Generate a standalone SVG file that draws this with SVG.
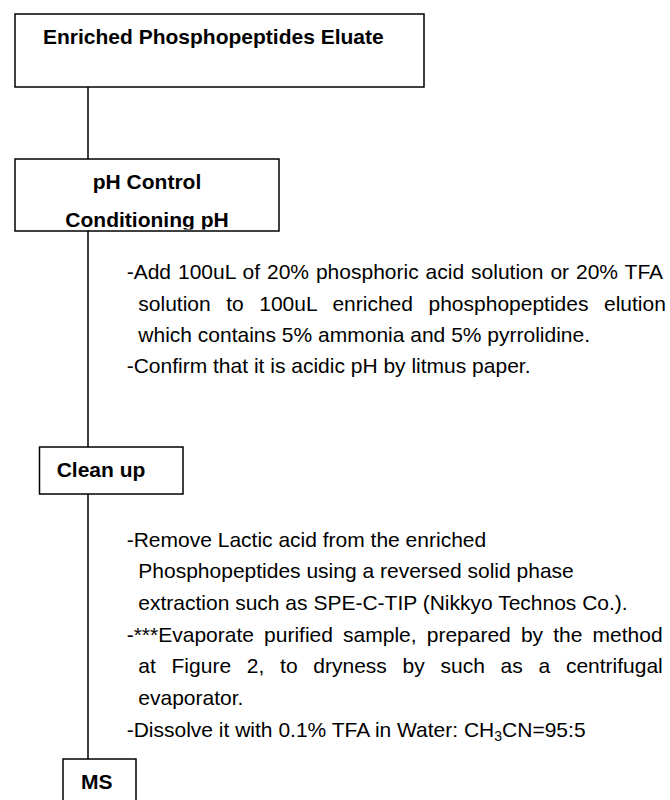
<svg xmlns="http://www.w3.org/2000/svg" width="670" height="800" viewBox="0 0 670 800">
<style>
.box{fill:#fff;stroke:#000;stroke-width:1.5}
.conn{stroke:#000;stroke-width:1.5;fill:none}
.hd{font-family:"Liberation Sans",Arial,sans-serif;font-size:21px;font-weight:bold;fill:#000}
.bd{font-family:"Liberation Sans",Arial,sans-serif;font-size:21px;fill:#000}
</style>
<defs>
<clipPath id="clipPH"><rect x="15" y="159" width="264" height="70.5"/></clipPath>
</defs>
<rect width="670" height="800" fill="#fff"/>
<g id="connectors">
<line class="conn" x1="88" y1="87" x2="88" y2="159"/>
<line class="conn" x1="88" y1="231" x2="88" y2="447"/>
<line class="conn" x1="88" y1="494" x2="88" y2="759"/>
</g>
<g id="node-eluate">
<rect class="box" x="15" y="14" width="409" height="73"/>
<text class="hd" x="43" y="44.3">Enriched Phosphopeptides Eluate</text>
</g>
<g id="node-ph">
<rect class="box" x="15" y="159" width="264" height="72"/>
<text class="hd" x="147" y="189.3" text-anchor="middle">pH Control</text>
<text class="hd" x="147" y="227.3" text-anchor="middle" clip-path="url(#clipPH)">Conditioning pH</text>
</g>
<g id="note-ph">
<text class="bd" x="126.7" y="279.3" word-spacing="1.1">-Add 100uL of 20% phosphoric acid solution or 20% TFA</text>
<text class="bd" x="138.3" y="310.6" word-spacing="9.7">solution to 100uL enriched phosphopeptides elution</text>
<text class="bd" x="138.3" y="341.9">which contains 5% ammonia and 5% pyrrolidine.</text>
<text class="bd" x="126.7" y="373.2">-Confirm that it is acidic pH by litmus paper.</text>
</g>
<g id="node-cleanup">
<rect class="box" x="39.5" y="447" width="143.5" height="47"/>
<text class="hd" x="56.7" y="476.7">Clean up</text>
</g>
<g id="note-cleanup">
<text class="bd" x="126.7" y="546.7">-Remove Lactic acid from the enriched</text>
<text class="bd" x="138.3" y="578.3">Phosphopeptides using a reversed solid phase</text>
<text class="bd" x="138.3" y="610">extraction such as SPE-C-TIP (Nikkyo Technos Co.).</text>
<text class="bd" x="126.7" y="641.7" word-spacing="4.3">-***Evaporate purified sample, prepared by the method</text>
<text class="bd" x="138.3" y="673.3" word-spacing="9.9">at Figure 2, to dryness by such as a centrifugal</text>
<text class="bd" x="138.3" y="705">evaporator.</text>
<text class="bd" x="126.7" y="736.7">-Dissolve it with 0.1% TFA in Water: CH<tspan font-size="14" dy="4">3</tspan><tspan dy="-4">CN=95:5</tspan></text>
</g>
<g id="node-ms">
<rect class="box" x="63" y="759" width="73" height="50"/>
<text class="hd" x="81" y="789">MS</text>
</g>
</svg>
